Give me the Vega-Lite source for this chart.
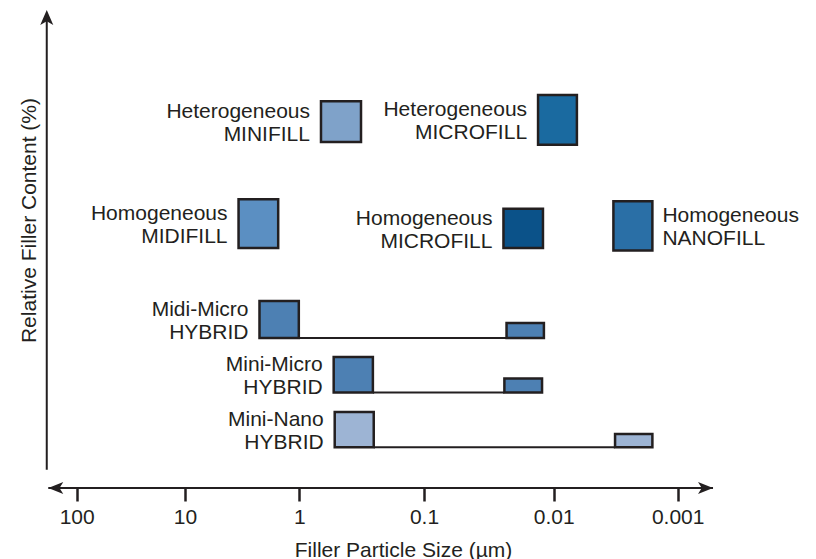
{
  "$schema": "https://vega.github.io/schema/vega-lite/v6.json",
  "width": 666,
  "height": 478,
  "autosize": {"type": "none"},
  "padding": {"left": 47, "top": 10, "right": 103, "bottom": 71},
  "background": "white",
  "config": {
    "view": {"stroke": null},
    "font": "Liberation Sans",
    "text": {"font": "Liberation Sans", "fontSize": 21, "lineHeight": 23, "lineBreak": "\n", "color": "#231f20"}
  },
  "datasets": {
    "boxes": [
      {"group": "Heterogeneous MINIFILL", "label": "Heterogeneous\nMINIFILL", "side": "left", "part": "main", "size_big": 0.67, "size_small": 0.32, "cmin": 72.4, "cmax": 80.9},
      {"group": "Homogeneous MIDIFILL", "label": "Homogeneous\nMIDIFILL", "side": "left", "part": "main", "size_big": 3.4, "size_small": 1.53, "cmin": 50.2, "cmax": 60.4},
      {"group": "Heterogeneous MICROFILL", "label": "Heterogeneous\nMICROFILL", "side": "left", "part": "main", "size_big": 0.0132, "size_small": 0.0065, "cmin": 71.8, "cmax": 82.2},
      {"group": "Homogeneous MICROFILL", "label": "Homogeneous\nMICROFILL", "side": "left", "part": "main", "size_big": 0.0244, "size_small": 0.0121, "cmin": 50.2, "cmax": 58.4},
      {"group": "Homogeneous NANOFILL", "label": "Homogeneous\nNANOFILL", "side": "right", "part": "main", "size_big": 0.0033, "size_small": 0.0016, "cmin": 49.7, "cmax": 60.0},
      {"group": "Midi-Micro HYBRID", "label": "Midi-Micro\nHYBRID", "side": "left", "part": "main", "size_big": 2.23, "size_small": 1.01, "cmin": 31.4, "cmax": 39.1},
      {"group": "Midi-Micro HYBRID", "label": "Midi-Micro\nHYBRID", "side": "left", "part": "minor", "size_big": 0.0231, "size_small": 0.0119, "cmin": 31.4, "cmax": 34.5},
      {"group": "Mini-Micro HYBRID", "label": "Mini-Micro\nHYBRID", "side": "left", "part": "main", "size_big": 0.53, "size_small": 0.257, "cmin": 20.0, "cmax": 27.4},
      {"group": "Mini-Micro HYBRID", "label": "Mini-Micro\nHYBRID", "side": "left", "part": "minor", "size_big": 0.024, "size_small": 0.0123, "cmin": 20.0, "cmax": 22.9},
      {"group": "Mini-Nano HYBRID", "label": "Mini-Nano\nHYBRID", "side": "left", "part": "main", "size_big": 0.52, "size_small": 0.253, "cmin": 8.5, "cmax": 15.9},
      {"group": "Mini-Nano HYBRID", "label": "Mini-Nano\nHYBRID", "side": "left", "part": "minor", "size_big": 0.0032, "size_small": 0.0016, "cmin": 8.5, "cmax": 11.3}
    ],
    "links": [
      {"group": "Midi-Micro HYBRID", "from": 1.01, "to": 0.0231, "level": 31.4},
      {"group": "Mini-Micro HYBRID", "from": 0.257, "to": 0.024, "level": 20.0},
      {"group": "Mini-Nano HYBRID", "from": 0.253, "to": 0.0032, "level": 8.5}
    ],
    "frame": [
      {"line": "size", "x": 183, "x2": 0.000519, "y": 0, "y2": 0},
      {"line": "content", "x": 189, "x2": 189, "y": 3.8, "y2": 99}
    ],
    "arrows": [
      {"dir": "left", "x": 183, "y": 0},
      {"dir": "right", "x": 0.000519, "y": 0},
      {"dir": "up", "x": 189, "y": 100}
    ]
  },
  "layer": [
    {
      "data": {"name": "frame"},
      "mark": {"type": "rule", "stroke": "#231f20", "strokeWidth": 2},
      "encoding": {
        "x": {
          "field": "x", "type": "quantitative",
          "scale": {"type": "log", "domain": [100, 10, 1, 0.1, 0.01, 0.001], "range": [29.7, 138, 252.3, 377, 506.7, 630.7], "nice": false},
          "axis": {
            "title": "Filler Particle Size (µm)",
            "values": [100, 10, 1, 0.1, 0.01, 0.001],
            "labelExpr": "format(datum.value, '~g')",
            "domain": false, "grid": false,
            "tickSize": 13, "tickWidth": 2.5, "tickColor": "#231f20",
            "labelFont": "Liberation Sans", "labelFontSize": 21, "labelColor": "#231f20",
            "labelBaseline": "alphabetic", "labelPadding": 22, "labelFlush": false, "labelOverlap": false,
            "titleFont": "Liberation Sans", "titleFontSize": 21, "titleFontWeight": "normal", "titleColor": "#231f20",
            "titleX": 356, "titleY": 68, "titleBaseline": "alphabetic"
          }
        },
        "x2": {"field": "x2"},
        "y": {
          "field": "y", "type": "quantitative",
          "scale": {"domain": [0, 100], "nice": false, "zero": false},
          "axis": {
            "title": "Relative Filler Content (%)",
            "domain": false, "ticks": false, "labels": false, "grid": false,
            "titleFont": "Liberation Sans", "titleFontSize": 21, "titleFontWeight": "normal", "titleColor": "#231f20",
            "titlePadding": 8, "titleY": 210
          }
        },
        "y2": {"field": "y2"}
      }
    },
    {
      "data": {"name": "links"},
      "mark": {"type": "rule", "stroke": "#231f20", "strokeWidth": 2},
      "encoding": {
        "x": {"field": "from", "type": "quantitative"},
        "x2": {"field": "to"},
        "y": {"field": "level", "type": "quantitative"}
      }
    },
    {
      "data": {"name": "boxes"},
      "mark": {"type": "rect", "stroke": "#231f20", "strokeWidth": 2.5},
      "encoding": {
        "x": {"field": "size_big", "type": "quantitative"},
        "x2": {"field": "size_small"},
        "y": {"field": "cmin", "type": "quantitative"},
        "y2": {"field": "cmax"},
        "fill": {
          "field": "group", "type": "nominal", "legend": null,
          "scale": {
            "domain": ["Heterogeneous MINIFILL", "Homogeneous MIDIFILL", "Heterogeneous MICROFILL", "Homogeneous MICROFILL", "Homogeneous NANOFILL", "Midi-Micro HYBRID", "Mini-Micro HYBRID", "Mini-Nano HYBRID"],
            "range": ["#7fa2c9", "#5b8fc2", "#1a6aa0", "#0b5289", "#2a6fa6", "#4d80b3", "#4d80b3", "#9db4d4"]
          }
        }
      }
    },
    {
      "data": {"name": "boxes"},
      "transform": [
        {"filter": "datum.part === 'main' && datum.side === 'left'"},
        {"fold": ["cmin", "cmax"], "as": ["edge", "content"]},
        {"aggregate": [{"op": "mean", "field": "content", "as": "mid"}, {"op": "max", "field": "size_big", "as": "anchor"}], "groupby": ["label"]}
      ],
      "mark": {"type": "text", "align": "right", "baseline": "middle", "dx": -11, "dy": -9.5},
      "encoding": {
        "x": {"field": "anchor", "type": "quantitative"},
        "y": {"field": "mid", "type": "quantitative"},
        "text": {"field": "label"}
      }
    },
    {
      "data": {"name": "boxes"},
      "transform": [
        {"filter": "datum.part === 'main' && datum.side === 'right'"},
        {"fold": ["cmin", "cmax"], "as": ["edge", "content"]},
        {"aggregate": [{"op": "mean", "field": "content", "as": "mid"}, {"op": "min", "field": "size_small", "as": "anchor"}], "groupby": ["label"]}
      ],
      "mark": {"type": "text", "align": "left", "baseline": "middle", "dx": 10, "dy": -9.5},
      "encoding": {
        "x": {"field": "anchor", "type": "quantitative"},
        "y": {"field": "mid", "type": "quantitative"},
        "text": {"field": "label"}
      }
    },
    {
      "data": {"name": "arrows"},
      "mark": {"type": "point", "filled": true, "size": 225, "color": "#231f20", "opacity": 1, "strokeWidth": 0},
      "encoding": {
        "x": {"field": "x", "type": "quantitative"},
        "y": {"field": "y", "type": "quantitative"},
        "shape": {
          "field": "dir", "type": "nominal", "legend": null,
          "scale": {
            "domain": ["left", "right", "up"],
            "range": ["M0,0 L2,-0.8 L1.5,0 L2,0.8 Z", "M0,0 L-2,-0.8 L-1.5,0 L-2,0.8 Z", "M0,0 L-0.87,2 L0,1.5 L0.87,2 Z"]
          }
        }
      }
    }
  ]
}
